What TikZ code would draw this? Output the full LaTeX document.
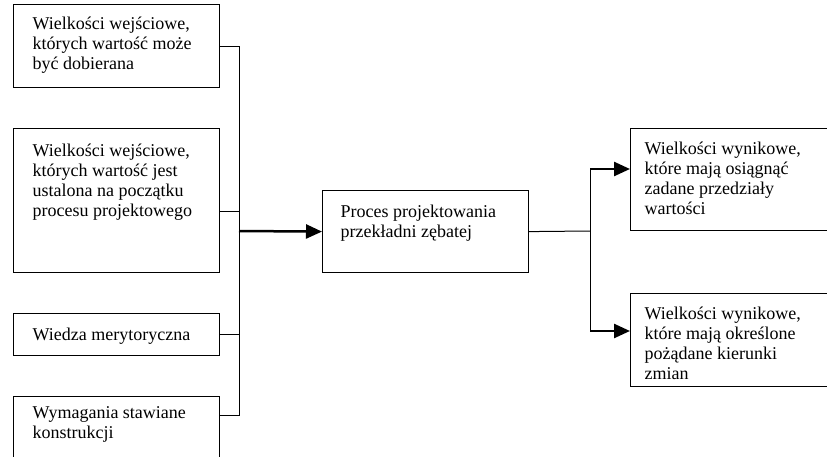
\documentclass[tikz,border=0pt]{standalone}
\usepackage{fontspec}
\setmainfont{Liberation Serif}
\usetikzlibrary{arrows.meta}
\newcommand{\ramka}[4]{\parbox[t][#1pt][t]{#2pt}{\raggedright\rule{0pt}{#3pt}#4}}

\begin{document}
\begin{tikzpicture}[x=1pt,y=-1pt,
        blok/.style={draw, line width=1.2pt, anchor=north west, inner ysep=0pt, inner xsep=19pt},
        cienka/.style={line width=1pt},
        gruba/.style={line width=2.5pt, -{Triangle[length=16pt 0 0,width=14pt 0 0]}}]
        \useasboundingbox (0,0) rectangle (827,457);
        \clip (0,0) rectangle (827,457);
        \fontsize{18}{20}\selectfont
        % Input quantities
        \node[blok] (we1) at (13,4) {\ramka{83}{168}{25}{Wielkości wejściowe, których wartość może być dobierana}};
        \node[blok] (we2) at (13,128) {\ramka{144}{168}{28}{Wielkości wejściowe, których wartość jest ustalona na początku procesu projektowego}};
        \node[blok] (we3) at (13,313) {\ramka{42}{168}{27}{Wiedza merytoryczna}};
        \node[blok] (we4) at (13,396) {\ramka{70}{168}{22}{Wymagania stawiane konstrukcji}};
        % Process
        \node[blok, inner xsep=18pt] (proces) at (322,190) {\ramka{82}{170}{27}{Proces projektowania przekładni zębatej}};
        % Output quantities
        \node[blok, inner xsep=14pt] (wy1) at (630,128) {\ramka{102}{200}{26}{\parbox[t]{170pt}{\raggedright Wielkości wynikowe, które mają osiągnąć zadane przedziały wartości}}};
        \node[blok, inner xsep=14pt] (wy2) at (630,293) {\ramka{93}{200}{26}{\parbox[t]{170pt}{\raggedright Wielkości wynikowe, które mają określone pożądane kierunki zmian}}};
        % Draw connectors
        \coordinate (wezel) at (239,231);
        \coordinate (rozg) at (590,231);
        \coordinate (g1) at (590,169);
        \coordinate (g2) at (590,331);
        \draw[cienka] (we1.east) -| (wezel);
        \draw[cienka] ([yshift=-11pt]we2.east) -| (wezel);
        \draw[cienka] (we3.east) -| (wezel);
        \draw[cienka] ([yshift=16pt]we4.east) -| (wezel);
        \draw[gruba] (wezel) -- (proces.west);
        \draw[cienka] (proces.east) -- (rozg);
        \draw[cienka] (g1) -- (g2);
        \draw[gruba] (g1) -- (g1 -| wy1.west);
        \draw[gruba] (g2) -- (g2 -| wy2.west);
\end{tikzpicture}
\end{document}
